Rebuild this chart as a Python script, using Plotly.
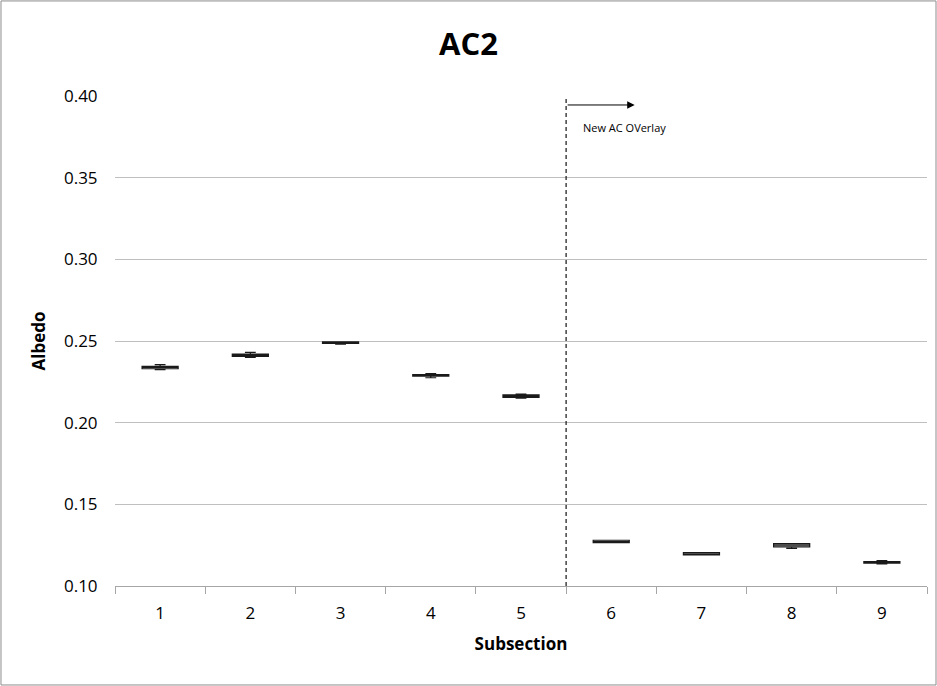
import plotly.graph_objects as go

subsections = [1, 2, 3, 4, 5, 6, 7, 8, 9]
tick_labels = ["1", "2", "3", "4", "5", "6", "7", "8", "9"]
lower = [0.2325, 0.2400, 0.2480, 0.2275, 0.2150, 0.1265, 0.1190, 0.1230, 0.1135]
q1 = [0.2330, 0.2405, 0.2485, 0.2285, 0.2155, 0.1265, 0.1190, 0.1240, 0.1140]
median = [0.2340, 0.2412, 0.2490, 0.2290, 0.2162, 0.1272, 0.1197, 0.1250, 0.1145]
q3 = [0.2345, 0.2420, 0.2495, 0.2295, 0.2170, 0.1280, 0.1205, 0.1260, 0.1150]
upper = [0.2355, 0.2430, 0.2495, 0.2300, 0.2175, 0.1280, 0.1205, 0.1260, 0.1155]

font = "Open Sans"

fig = go.Figure()
fig.add_trace(go.Box(
    x=subsections, q1=q1, median=median, q3=q3,
    lowerfence=lower, upperfence=upper,
    width=0.4, whiskerwidth=0.3,
    fillcolor="#e6e6e6", line=dict(color="#1a1a1a", width=1.2),
    boxpoints=False, showlegend=False, hoverinfo="skip",
))

fig.add_shape(type="line", x0=5.5, x1=5.5, y0=0.10, y1=0.40,
              xref="x", yref="y", line=dict(color="#262626", width=1.3, dash="4px,3px"))
fig.add_annotation(x=6.26, y=0.3945, ax=5.5, ay=0.3945, xref="x", yref="y",
                   axref="x", ayref="y", showarrow=True, arrowhead=2,
                   arrowsize=1.5, arrowwidth=1, arrowcolor="#000", text="")
fig.add_annotation(x=5.67, y=0.3805, xref="x", yref="y", text="New AC OVerlay",
                   showarrow=False, xanchor="left", font=dict(size=11, color="#000", family=font))

# outer chart border
fig.add_shape(type="rect", xref="paper", yref="paper",
              x0=-0.1404, x1=1.0111, y0=-0.202, y1=1.194,
              line=dict(color="#8c8c8c", width=1))

fig.update_layout(
    width=937, height=686,
    margin=dict(l=115, r=10, t=96, b=100),
    paper_bgcolor="white", plot_bgcolor="white",
    title=dict(text="<b>AC2</b>", x=0.5, xanchor="center", y=0.935, yanchor="middle",
               font=dict(size=31, family=font, color="#000")),
    font=dict(family=font, color="#000"),
)
fig.update_xaxes(
    range=[0.5, 9.5], tickvals=subsections, ticktext=tick_labels,
    ticks="outside", ticklen=12, tickcolor="rgba(0,0,0,0)",
    showgrid=False, zeroline=False,
    showline=True, linecolor="#a6a6a6", linewidth=1,
    tickfont=dict(size=17, family=font),
    minor=dict(tickvals=[0.5 + i for i in range(10)], ticks="outside",
               ticklen=7, tickcolor="#a6a6a6", showgrid=False),
    title=dict(text="<b>Subsection</b>", font=dict(size=17, family=font), standoff=14),
)
fig.update_yaxes(
    range=[0.10, 0.40], tickvals=[0.10, 0.15, 0.20, 0.25, 0.30, 0.35, 0.40],
    tickformat=".2f", showgrid=True, gridcolor="#bfbfbf", gridwidth=1,
    zeroline=False, showline=False,
    ticks="outside", ticklen=13, tickcolor="rgba(0,0,0,0)",
    tickfont=dict(size=17, family=font),
    title=dict(text="<b>Albedo</b>", font=dict(size=17, family=font), standoff=14),
)

fig.write_html("out.html")
